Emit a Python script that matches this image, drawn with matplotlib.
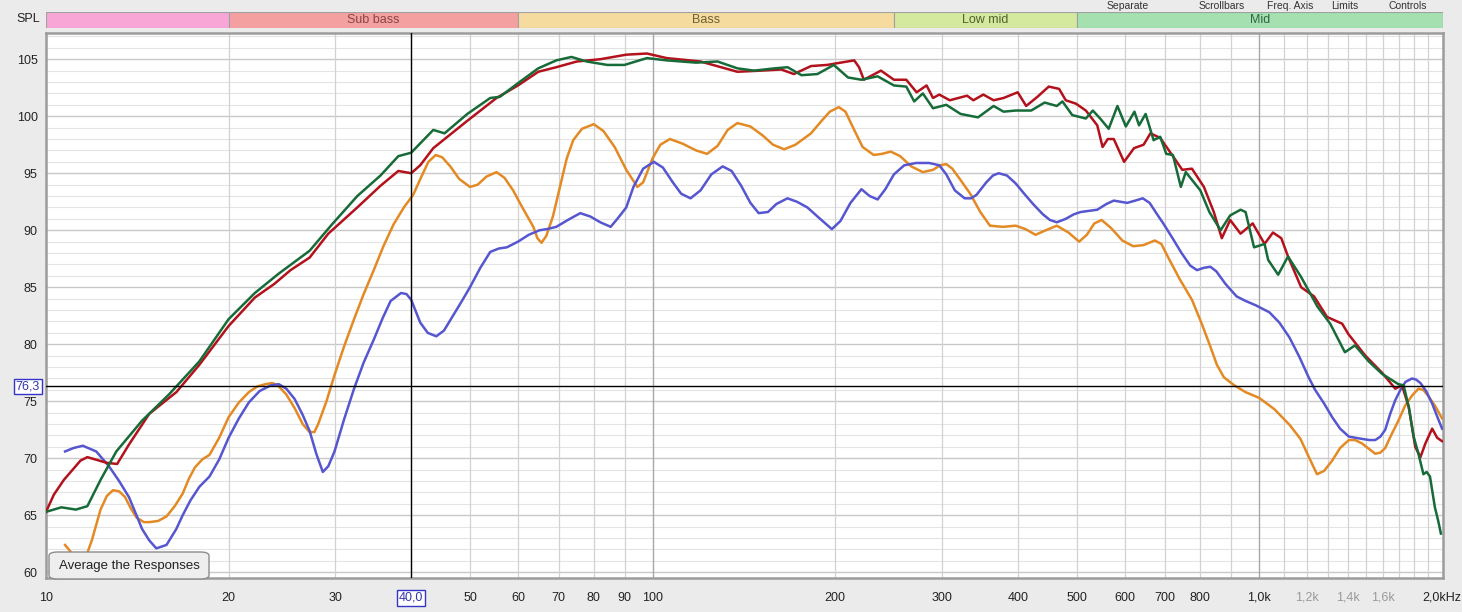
import numpy as np
import matplotlib
matplotlib.use('Agg')
import matplotlib.pyplot as plt
from matplotlib.patches import FancyBboxPatch

plt.rcParams['font.family'] = ['Liberation Sans', 'DejaVu Sans']

# ---- data (Hz, dB SPL) ----
red_f = [10, 10.3, 10.7, 11.4, 11.7, 12.6, 13.1, 13.7, 14.8, 16.4, 17.9, 20, 22.1, 23.8, 25.3, 27.2, 29.2,
         32.6, 35.6, 38.1, 40, 41.4, 43.5, 49.5, 55.3, 60, 64.8, 69.4, 75, 82, 90.5, 97.9, 105.5,
         120, 138, 151, 163, 171, 182.5, 194, 215, 219, 223, 238, 250, 262, 272.5, 283, 290, 297,
         309, 330, 338, 351, 365, 379, 400, 413, 431, 450, 468, 480, 499, 518, 541, 552, 563, 576,
         599, 622, 645, 662, 687, 723, 747, 775, 811, 842, 868, 896, 932, 976, 1021, 1054, 1088,
         1116, 1173, 1232, 1294, 1371, 1403, 1497, 1595, 1677, 1720, 1765, 1809, 1845, 1880, 1929,
         1966, 2003]
red_db = [65.3, 66.8, 68.1, 69.8, 70.1, 69.6, 69.5, 71.2, 73.9, 75.8, 78.2, 81.6, 84.1, 85.3, 86.5, 87.6, 89.7,
          92.0, 93.9, 95.2, 95.0, 95.7, 97.2, 99.6, 101.6, 102.7, 103.9, 104.3, 104.8, 105.0, 105.4, 105.5, 105.1,
          104.8, 103.9, 104.0, 104.1, 103.7, 104.4, 104.5, 104.9, 104.3, 103.2, 104.0, 103.2, 103.2, 102.1, 102.7, 101.6, 101.9,
          101.4, 101.8, 101.4, 101.9, 101.4, 101.6, 102.1, 100.9, 101.7, 102.6, 102.4, 101.4, 101.1, 100.5, 99.2, 97.3, 98.0, 98.0,
          96.0, 97.2, 97.5, 98.5, 98.1, 96.4, 95.3, 95.4, 93.8, 91.6, 89.3, 90.9, 89.7, 90.6, 88.8, 89.8, 89.3,
          87.7, 85.0, 84.2, 82.4, 81.8, 80.9, 79.0, 77.5, 76.1, 76.4, 74.5, 71.0, 70.1, 71.3, 72.6,
          71.8, 71.5]

green_f = [10, 10.6, 11.2, 11.7, 12.3, 13.06, 14.4, 15.95, 17.9, 20, 22.1, 24.2, 27.2, 29.6, 32.6, 35.6,
           38.1, 40, 43.5, 45.4, 49.5, 54, 56, 60, 64.8, 69.4, 73.5, 77.9, 84.2, 89.9, 97.9, 105.5,
           118, 128, 138, 147, 159, 167, 176, 187, 199, 210, 221, 235, 250, 262, 270, 279, 290, 305,
           322, 344, 365, 379, 397, 421, 443, 464, 474, 492, 518, 532, 547, 565, 584, 603, 623, 634,
           650, 670, 687, 703, 721, 743, 757, 800, 828, 864, 896, 932, 950, 981, 1021, 1035, 1075,
           1116, 1173, 1248, 1310, 1385, 1439, 1516, 1595, 1697, 1731, 1765, 1798, 1831, 1866, 1889,
           1913, 1949, 1974, 1994]
green_db = [65.3, 65.7, 65.5, 65.8, 68.1, 70.6, 73.3, 75.6, 78.5, 82.2, 84.5, 86.2, 88.2, 90.5, 93.0, 94.8,
            96.5, 96.8, 98.8, 98.5, 100.2, 101.6, 101.7, 102.9, 104.2, 104.9, 105.2, 104.8, 104.5, 104.5, 105.1, 104.9,
            104.7, 104.8, 104.2, 104.0, 104.2, 104.3, 103.6, 103.7, 104.5, 103.4, 103.2, 103.5, 102.7, 102.6, 101.3, 102.0, 100.7, 101.0,
            100.2, 99.9, 100.9, 100.4, 100.5, 100.5, 101.2, 100.9, 101.3, 100.1, 99.8, 100.5, 99.8, 98.9, 100.9, 99.1, 100.4, 99.2,
            100.2, 97.9, 98.2, 96.7, 96.6, 93.8, 95.1, 93.5, 91.6, 90.0, 91.3, 91.8, 91.6, 88.5, 88.8, 87.4, 86.1,
            87.7, 85.9, 83.3, 81.8, 79.3, 79.9, 78.5, 77.4, 76.5, 76.4, 74.5, 71.9, 70.4, 68.6, 68.8,
            68.4, 65.7, 64.5, 63.4]

orange_f = [10.75, 11.1, 11.5, 11.9, 12.3, 12.6, 12.9, 13.2, 13.5, 13.8, 14.1, 14.5, 14.8, 15.3, 15.8,
            16.3, 16.8, 17.2, 17.6, 18.1, 18.6, 19.3, 20, 20.8, 21.6, 22.3, 23.0, 23.6, 24.1, 24.9,
            25.7, 26.5, 27.2, 27.7, 28.1, 29.0, 29.9, 31.0, 32.2, 33.4, 34.7, 36.0, 37.4, 38.9, 40.3,
            41.5, 42.7, 43.9, 45.0, 46.4, 48.0, 50, 51.5, 53.2, 55.3, 57.0, 58.9, 61, 63.6, 64.6,
            65.6, 66.8, 68.5, 70.5, 72.2, 74, 76.5, 80, 83.0, 86.6, 90.5, 94.4, 96.5, 100, 103,
            106.8, 112, 118, 123, 128, 133, 138, 145, 152, 158, 164.8, 172, 182.5, 190, 196,
            202.8, 208, 215, 222, 231.6, 239, 247, 256, 267, 279, 290, 298, 305, 312, 322,
            334, 347, 360, 378, 397, 412, 428, 445, 464, 485, 505, 520, 535, 550, 570,
            595, 620, 645, 673, 690, 710, 740, 775, 803, 831, 852, 875, 910, 950, 1000,
            1060, 1124, 1170, 1213, 1246, 1280, 1320, 1360, 1406, 1440, 1478, 1520, 1554, 1585, 1614,
            1650, 1697, 1740, 1787, 1831, 1865, 1898, 1950, 2003]
orange_db = [62.4, 61.5, 60.6, 62.8, 65.5, 66.7, 67.2, 67.1, 66.6, 65.6, 64.8, 64.4, 64.4, 64.5, 64.9,
             65.8, 66.9, 68.2, 69.2, 69.9, 70.3, 71.8, 73.6, 74.9, 75.8, 76.3, 76.5, 76.6, 76.4, 75.6,
             74.4, 73.0, 72.3, 72.3, 73.0, 75.0, 77.3, 79.8, 82.2, 84.4, 86.5, 88.6, 90.5, 92.0, 93.1,
             94.6, 96.0, 96.6, 96.4, 95.6, 94.5, 93.8, 94.0, 94.7, 95.1, 94.6, 93.5, 92.0, 90.3, 89.3,
             88.9, 89.5, 91.2, 94.0, 96.3, 97.9, 98.9, 99.3, 98.7, 97.3, 95.3, 93.8, 94.2, 96.3, 97.5,
             98.0, 97.6, 97.0, 96.7, 97.4, 98.8, 99.4, 99.1, 98.3, 97.5, 97.1, 97.5, 98.5, 99.6, 100.4,
             100.8, 100.4, 98.8, 97.3, 96.6, 96.7, 96.9, 96.5, 95.6, 95.1, 95.3, 95.7, 95.8, 95.4, 94.4,
             93.2, 91.6, 90.4, 90.3, 90.4, 90.1, 89.6, 90.0, 90.4, 89.8, 89.0, 89.6, 90.6, 90.9, 90.2,
             89.1, 88.6, 88.7, 89.1, 88.8, 87.5, 85.7, 83.9, 81.9, 79.8, 78.2, 77.1, 76.4, 75.8, 75.3,
             74.3, 72.9, 71.7, 69.9, 68.6, 68.9, 69.8, 70.9, 71.6, 71.6, 71.3, 70.8, 70.4, 70.5, 70.9,
             72.0, 73.3, 74.6, 75.5, 76.1, 76.0, 75.5, 74.6, 73.5]

blue_f = [10.75, 11.1, 11.5, 12.1, 12.7, 13.2, 13.7, 14.1, 14.4, 14.8, 15.2, 15.8, 16.4, 16.8, 17.3,
          17.9, 18.6, 19.3, 20, 20.8, 21.6, 22.5, 23.5, 24.2, 24.9, 25.7, 26.5, 27.2, 27.9, 28.6,
          29.2, 29.9, 31.0, 32.2, 33.4, 34.7, 35.9, 37, 38.5, 39.3, 40, 40.7, 41.4, 42.6, 44,
          45.3, 47, 48.5, 50, 52, 54, 55.8, 57.5, 60, 62.5, 65.1, 67, 69.4, 72.5, 76,
          79, 82, 85.3, 87.5, 90.5, 93, 96.5, 100.5, 104, 108, 111.5, 115.5, 120, 125, 130.5,
          135, 140, 145, 149.6, 155, 160, 166.9, 173, 180, 188, 197.5, 204, 212, 221, 228,
          235, 242, 250, 260, 272, 285.7, 297, 305, 315, 327, 335, 342, 355, 364, 372,
          384, 397, 410, 424, 440, 452, 464, 480, 495, 508, 541, 560, 576, 606, 625,
          643, 660, 675, 695, 720, 745, 770, 790, 810, 831, 850, 880, 918, 950, 989,
          1040, 1080, 1122, 1165, 1207, 1237, 1280, 1320, 1360, 1406, 1440, 1478, 1520, 1554, 1585,
          1614, 1645, 1677, 1710, 1743, 1787, 1815, 1845, 1885, 1929, 1965, 2003]
blue_db = [70.6, 70.9, 71.1, 70.6, 69.3, 68.0, 66.6, 65.0, 63.8, 62.8, 62.1, 62.4, 63.8, 65.0, 66.3,
           67.5, 68.4, 69.9, 71.8, 73.5, 74.9, 75.9, 76.4, 76.5, 76.1, 75.2, 73.8, 72.4, 70.4, 68.8,
           69.3, 70.6, 73.4, 76.1, 78.4, 80.4, 82.3, 83.8, 84.5, 84.4, 83.9, 82.9, 81.9, 81.0, 80.7,
           81.2, 82.6, 83.8, 85.0, 86.7, 88.1, 88.4, 88.5, 89.0, 89.6, 90.0, 90.1, 90.3, 90.9, 91.5,
           91.2, 90.7, 90.3, 91.0, 92.0, 93.8, 95.4, 96.0, 95.5, 94.2, 93.2, 92.8, 93.5, 94.9, 95.6,
           95.2, 93.9, 92.4, 91.5, 91.6, 92.3, 92.8, 92.5, 92.0, 91.1, 90.1, 90.8, 92.4, 93.6, 93.0,
           92.7, 93.6, 94.9, 95.7, 95.9, 95.9, 95.7, 94.9, 93.5, 92.8, 92.8, 93.1, 94.2, 94.8, 95.0,
           94.8, 94.1, 93.2, 92.3, 91.4, 90.9, 90.7, 91.0, 91.4, 91.6, 91.8, 92.3, 92.6, 92.4, 92.6,
           92.8, 92.4, 91.6, 90.6, 89.3, 88.0, 86.9, 86.5, 86.7, 86.8, 86.4, 85.3, 84.2, 83.8, 83.4,
           82.8, 81.9, 80.6, 78.9, 77.1, 76.0, 74.8, 73.6, 72.6, 71.9, 71.8, 71.7, 71.6, 71.6, 71.9,
           72.5, 73.9, 75.1, 76.0, 76.7, 77.0, 76.9, 76.6, 75.9, 74.8, 73.7, 72.6]

bands = ['', 'Sub bass', 'Bass', 'Low mid', 'Mid']
band_edges = [10, 20, 60, 250, 500, 2010]
band_colors = ['#f8a6d6', '#f5a0a0', '#f5dc9e', '#d4e89e', '#a4e0b0']
band_text = ['#333333', '#8a4444', '#6e5f35', '#4f6230', '#2f6540']

xtick_vals = [10, 20, 30, 40, 50, 60, 70, 80, 90, 100, 200, 300, 400, 500, 600, 700, 800,
              1000, 1200, 1400, 1600, 2000]
xtick_labels = ['10', '20', '30', '40,0', '50', '60', '70', '80', '90', '100', '200', '300', '400',
                '500', '600', '700', '800', '1,0k', '1,2k', '1,4k', '1,6k', '2,0kHz']
ytick_vals = [60, 65, 70, 75, 80, 85, 90, 95, 100, 105]
cursor_f = 40.0
cursor_db = 76.3
top_controls = ['Separate', 'Scrollbars', 'Freq. Axis', 'Limits', 'Controls']

W, H = 1462, 612
fig = plt.figure(figsize=(W / 100, H / 100), dpi=100, facecolor='#ebebeb')
L, R, B, T = 46 / W, 1443 / W, 1 - 578 / H, 1 - 33 / H
ax = fig.add_axes([L, B, R - L, T - B])
ax.set_xscale('log')
ax.set_xlim(10, 2010)
ax.set_ylim(59.5, 107.3)
ax.set_facecolor('white')

# grid
for v in range(60, 108):
    major = v % 5 == 0
    ax.axhline(v, color='#c8c8c8' if major else '#e4e4e4', lw=1.0 if major else 0.8, zorder=0)
grid_f = list(range(20, 100, 10)) + list(range(200, 1000, 100)) + list(range(1100, 2000, 100))
for f in grid_f:
    ax.axvline(f, color='#d2d2d2', lw=0.9, zorder=0)
for f in [100, 1000]:
    ax.axvline(f, color='#a8a8a8', lw=1.0, zorder=0)

# curves
ax.plot(orange_f, orange_db, color='#e38a25', lw=1.8, zorder=3, solid_joinstyle='round')
ax.plot(blue_f, blue_db, color='#5656d0', lw=1.8, zorder=3, solid_joinstyle='round')
ax.plot(red_f, red_db, color='#b3121c', lw=1.8, zorder=4, solid_joinstyle='round')
ax.plot(green_f, green_db, color='#176b38', lw=1.8, zorder=5, solid_joinstyle='round')

# cursor
ax.axvline(cursor_f, color='black', lw=1.0, zorder=6)
ax.axhline(cursor_db, color='black', lw=1.0, zorder=6)

for s in ax.spines.values():
    s.set_color('#9c9c9c')
    s.set_linewidth(1.8)

ax.set_xticks(xtick_vals)
ax.set_xticklabels(xtick_labels)
ax.minorticks_off()
ax.set_yticks(ytick_vals)
ax.set_yticklabels([str(v) for v in ytick_vals])
ax.tick_params(length=0, labelsize=9, colors='#222222')
ax.tick_params(axis='x', pad=10)
ax.tick_params(axis='y', pad=6)
for lab in ax.get_xticklabels():
    t = lab.get_text()
    if t in ('1,2k', '1,4k', '1,6k'):
        lab.set_color('#9a9a9a')
    if t == '40,0':
        lab.set_color('#3434b0')
        lab.set_bbox(dict(boxstyle='square,pad=0.15', fc='white', ec='#3434c8', lw=1.0))

ax.text(-0.0045, cursor_db, '76,3', transform=ax.get_yaxis_transform(), ha='right', va='center',
        fontsize=9, color='#3434b0',
        bbox=dict(boxstyle='square,pad=0.15', fc='white', ec='#3434c8', lw=1.0), clip_on=False)

# band header
hax = fig.add_axes([L, 1 - 28 / H, R - L, 16 / H])
hax.set_xscale('log')
hax.set_xlim(10, 2010)
hax.set_ylim(0, 1)
hax.axis('off')
for i, name in enumerate(bands):
    lo, hi = band_edges[i], band_edges[i + 1]
    hax.axvspan(lo, hi, color=band_colors[i], ec='#a0a0a0', lw=0.8)
    if name:
        hax.text(np.sqrt(lo * hi), 0.48, name, ha='center', va='center', fontsize=9, color=band_text[i])
fig.text(28 / W, 1 - 19 / H, 'SPL', ha='center', va='center', fontsize=9, color='#222222')

# control labels along the very top edge
for x, t in zip([1128, 1222, 1290, 1345, 1408], top_controls):
    fig.text(x / W, 1 - 1 / H, t, ha='center', va='top', fontsize=7.5, color='#333333')

# button
btn = FancyBboxPatch((49 / W, 1 - 579 / H), 160 / W, 27 / H, boxstyle='round,pad=0,rounding_size=0.006',
                     transform=fig.transFigure, fc='#eeeeee', ec='#8c8c8c', lw=1.0, zorder=10)
fig.add_artist(btn)
fig.text(129 / W, 1 - 566 / H, 'Average the Responses', ha='center', va='center', fontsize=9.5,
         color='#222222', zorder=11)

fig.savefig('out.png', dpi=100, facecolor=fig.get_facecolor())
